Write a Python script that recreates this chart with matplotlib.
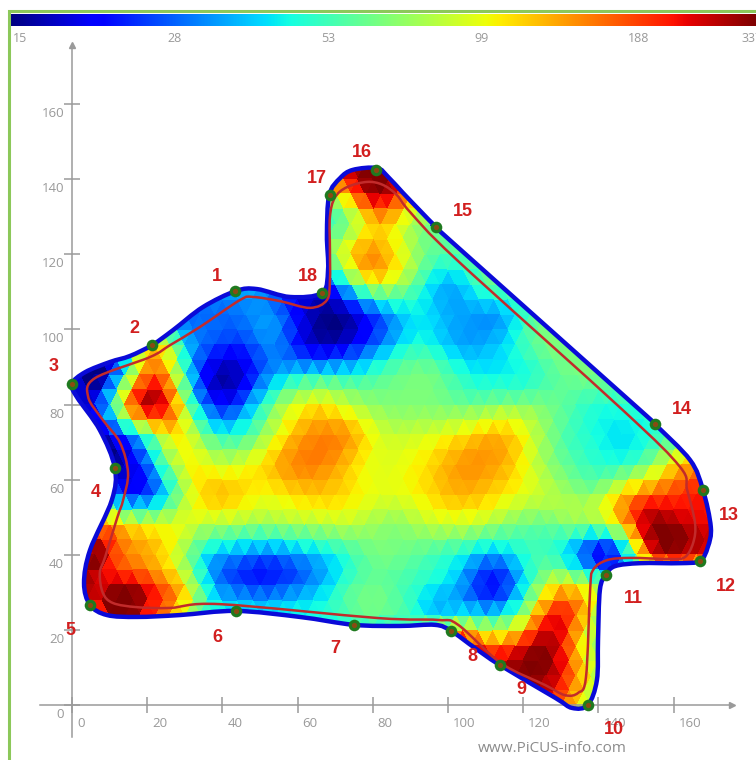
import numpy as np
import matplotlib
matplotlib.use("Agg")
import matplotlib.pyplot as plt
import matplotlib.tri as mtri
from matplotlib.path import Path
from matplotlib.patches import PathPatch
from matplotlib.lines import Line2D
from matplotlib.transforms import ScaledTranslation

plt.rcParams['font.family'] = ['Open Sans', 'DejaVu Sans']

W, H = 756, 760
X0_PX, Y0_PX, SCALE = 72.0, 705.3, 3.76

scale_labels = ['15', '28', '53', '99', '188', '337']
scale_label_px = [12.5, 167, 321, 474, 628, 741]
x_ticks = [0, 20, 40, 60, 80, 100, 120, 140, 160]
y_ticks = [0, 20, 40, 60, 80, 100, 120, 140, 160]
VMIN, VMAX = 15, 337

grid_x = list(range(0, 169, 8))
grid_y = list(range(0, 145, 8))
grid_values = [
    [320,320,320,320,320,320,320,320,320,320,320,320,320,320,320,320,240,120,70,70,70,70],
    [320,320,320,320,320,320,320,320,320,320,320,320,320,320,320,330,250,105,70,70,70,70],
    [60,60,60,60,60,60,60,60,60,60,60,60,150,320,190,220,330,140,75,70,70,70],
    [260,280,250,140,60,50,46,50,50,60,65,55,42,50,48,110,260,105,70,70,70,70],
    [280,260,300,200,115,36,26,26,32,48,65,60,50,40,22,34,90,110,70,60,60,60],
    [230,240,150,110,50,36,30,34,42,55,70,65,55,44,38,55,48,22,28,220,280,240],
    [110,150,125,105,105,85,80,80,85,90,85,75,90,95,85,70,65,75,85,220,330,260],
    [40,40,24,50,120,135,110,120,130,120,105,110,130,140,120,100,85,75,125,190,220,240],
    [18,18,18,40,110,100,105,140,170,150,110,105,120,150,155,125,80,60,52,60,105,150],
    [20,20,45,120,75,50,72,130,165,150,100,95,105,125,140,100,62,50,44,50,65,90],
    [22,22,130,330,85,24,32,70,110,105,80,72,72,68,70,75,70,58,50,55,60,60],
    [18,20,130,130,26,16,28,42,50,50,60,70,65,48,46,50,65,70,70,70,70,70],
    [20,20,40,130,45,28,26,34,20,18,26,42,50,38,38,50,70,70,70,70,70,70],
    [30,30,30,30,30,30,36,26,16,18,30,45,40,36,36,60,70,70,70,70,70,70],
    [40,40,40,40,40,40,40,30,22,30,90,90,50,38,60,70,70,70,70,70,70,70],
    [60,60,60,60,60,60,60,60,70,130,155,90,60,65,70,70,70,70,70,70,70,70],
    [70,70,70,70,70,70,70,70,70,55,110,115,70,70,70,70,70,70,70,70,70,70],
    [90,90,90,90,90,90,90,90,90,170,320,150,100,70,70,70,70,70,70,70,70,70],
    [100,100,100,100,100,100,100,100,200,280,330,280,100,70,70,70,70,70,70,70,70,70],
]

node_ids = list(range(1, 19))
node_x = [43.3, 21.3, 0, 11.4, 4.8, 43.6, 75, 100.8, 113.8, 137.2, 142, 167, 167.8, 155, 96.8, 80.9, 68.6, 66.5]
node_y = [110.2, 95.8, 85.5, 63.1, 26.7, 25.1, 21.4, 19.7, 10.6, 0.1, 34.7, 38.4, 57.3, 74.8, 127.2, 142.4, 135.7, 109.7]
label_x = [38.6, 16.5, -5, 6.4, -0.3, 38.6, 69.9, 106.4, 119.4, 144.1, 149.2, 173.9, 174.7, 162.2, 104, 77.1, 65.2, 62.8]
label_y = [114.1, 100.3, 90, 56.7, 20, 18.1, 15.0, 13.1, 4.3, -6.5, 28.3, 31.7, 50.6, 78.8, 131.4, 146.9, 140.2, 114]

outline_x = [0, 3.5, 10.1, 15.4, 21.3, 26.9, 34.8, 43.6, 49.2, 58, 66.5, 68.1, 67.8, 68.4, 71.3, 74.7, 81.1, 84, 88, 92.6, 96.8, 100.5,
             151.1, 155, 164.4, 167.8, 169.9, 169.1, 167, 161.7, 151.1, 144.4, 142, 140.4, 139.9, 139.6, 137.2, 133, 128.5, 113.8,
             107.2, 100.8, 96.5, 87.2, 75, 60.6, 43.6, 28.7, 17.3, 9.3, 4.8, 3.2, 4.8, 10.6, 11.4, 7.4, 1.3]
outline_y = [85.5, 88.6, 91.3, 92.9, 95.8, 99.8, 105.9, 110.2, 110.7, 108.6, 109.7, 115.8, 125.1, 135.7, 140.2, 142.4, 142.9, 140.6,
             136.3, 131.5, 127.2, 123.7, 78.5, 74.8, 65.2, 57.3, 47.4, 42.1, 38.4, 37.8, 37.8, 37, 34.7, 30.7, 17.4, 6.7, 0.1, -0.7, 2, 10.7,
             15.2, 19.8, 21.4, 21.1, 21.4, 23.5, 25.1, 24, 23.5, 24, 26.7, 32.5, 41.3, 54.6, 63.1, 73.2, 82]

inner_x = [4.3, 6.1, 20.7, 26.1, 34, 44.7, 48.1, 55.3, 63.3, 67.8, 68.6, 68.6, 68.6, 69.9, 73.1, 78.5, 82.7, 86.4, 89.9, 102.4,
           146.5, 161.7, 163.6, 165.7, 165.2, 163, 159, 148.4, 142.3, 138.6, 137.8, 136.7, 134.6, 131.1, 125.8, 114.1, 102.7, 97.3, 81.4,
           39.4, 26.1, 17.3, 10.9, 8.2, 7.4, 8.8, 12, 13.6, 14.9, 12.8, 8.2]
inner_y = [82, 87, 92.6, 95.8, 100.6, 107.8, 108.6, 107.5, 105.7, 107.8, 113.1, 121.1, 129.9, 135, 137.8, 139.2, 138.4, 135.7, 131.2, 118.4,
           78.5, 63.4, 57.3, 48.5, 43.2, 39.4, 38.9, 39.2, 38.6, 36, 30.7, 7.5, 3.3, 2.7, 5.4, 11.2, 21.4, 22.7, 23.2,
           26.9, 25.9, 26.1, 27.2, 29.9, 35.2, 39.4, 49.8, 54.6, 61.8, 69.8, 75.9]


def closed_spline(xs, ys):
    p = np.column_stack([xs, ys])
    n = len(p)
    verts = [p[0]]
    codes = [Path.MOVETO]
    for i in range(n):
        p0, p1, p2, p3 = p[(i - 1) % n], p[i], p[(i + 1) % n], p[(i + 2) % n]
        verts += [p1 + (p2 - p0) / 6, p2 - (p3 - p1) / 6, p2]
        codes += [Path.CURVE4] * 3
    return Path(verts, codes)


fig = plt.figure(figsize=(W / 100, H / 100), dpi=100, facecolor='white')
ax = fig.add_axes([0, 0, 1, 1])
ax.set_xlim(-X0_PX / SCALE, (W - X0_PX) / SCALE)
ax.set_ylim((Y0_PX - H) / SCALE, Y0_PX / SCALE)
ax.patch.set_alpha(0)

# axes
grey = '#9a9a9a'
for s in ['top', 'right']:
    ax.spines[s].set_visible(False)
for s in ['left', 'bottom']:
    ax.spines[s].set_position(('data', 0))
    ax.spines[s].set_color(grey)
    ax.spines[s].set_linewidth(1.1)
ax.spines['bottom'].set_bounds(-32 / SCALE, 660 / SCALE)
ax.spines['left'].set_bounds(-32 / SCALE, 660 / SCALE)
ax.plot([660 / SCALE], [0], '>', color=grey, ms=4, clip_on=False)
ax.plot([0], [660 / SCALE], '^', color=grey, ms=4, clip_on=False)
ax.set_xticks(x_ticks, [str(v) for v in x_ticks])
ax.set_yticks(y_ticks, [str(v) for v in y_ticks])
ax.tick_params(axis='both', direction='inout', length=11.5, width=1.1, color=grey,
               labelcolor='#999999', labelsize=9.5)
ax.tick_params(axis='x', pad=3)
ax.tick_params(axis='y', pad=0)
for lab in ax.get_xticklabels():
    lab.set_ha('left')
    lab.set_transform(lab.get_transform() + ScaledTranslation(5 / 100, 0, fig.dpi_scale_trans))
for lab in ax.get_yticklabels():
    lab.set_transform(lab.get_transform() + ScaledTranslation(0, -8 / 100, fig.dpi_scale_trans))

# tomogram field
gx, gy = np.meshgrid(np.array(grid_x, float), np.array(grid_y, float))
gx = gx + np.where(np.arange(len(grid_y)) % 2 == 0, -2.0, 2.0)[:, None]
vals = np.log10(np.array(grid_values, float))
# one extra margin of cells so that the outline stays inside the mesh
gx2 = np.pad(gx, 1, mode='reflect', reflect_type='odd')
gy2 = np.pad(gy, 1, mode='reflect', reflect_type='odd')
vals2 = np.pad(vals, 1, mode='edge')
tri = mtri.Triangulation(gx2.ravel(), gy2.ravel())
fine_tri, fine_vals = mtri.UniformTriRefiner(tri).refine_field(vals2.ravel(), subdiv=1)
outline = closed_spline(outline_x, outline_y)
pc = ax.tripcolor(fine_tri, fine_vals, cmap='jet', vmin=np.log10(VMIN), vmax=np.log10(VMAX),
                  shading='flat', zorder=1)
pc.set_clip_path(PathPatch(outline, transform=ax.transData))

ax.add_patch(PathPatch(outline, fc='none', ec='#0a0ad8', lw=3.2, zorder=3))
ax.add_patch(PathPatch(closed_spline(inner_x, inner_y), fc='none', ec='#c22b2b', lw=1.8, zorder=4))
ax.scatter(node_x, node_y, s=70, color='#1f7a1f', linewidths=0, zorder=5, clip_on=False)
ax.scatter(node_x, node_y, s=14, color='#8a4a12', linewidths=0, zorder=6, clip_on=False)
for i, lx, ly in zip(node_ids, label_x, label_y):
    ax.text(lx, ly, str(i), color='#d21f1f', fontsize=13, fontweight='bold', ha='center', va='center',
            family=['Liberation Sans'], zorder=7)

ax.text((552 - X0_PX) / SCALE, (Y0_PX - 748) / SCALE, 'www.PiCUS-info.com', color='#8c8c8c', fontsize=11,
        ha='center', va='center')

# colour scale
cax = fig.add_axes([9 / W, 1 - 26 / H, 747 / W, 12 / H])
cax.imshow(np.linspace(0, 1, 256)[None, :], cmap='jet', aspect='auto')
cax.axis('off')
for px, s in zip(scale_label_px, scale_labels):
    fig.text(px / W, 1 - 38 / H, s, color='#999999', fontsize=9, ha='left', va='center')

# green frame
fig.add_artist(Line2D([8.5 / W, 8.5 / W, 1], [0, 1 - 11 / H, 1 - 11 / H], color='#8cc85a', lw=2.2,
                      solid_joinstyle='miter'))

fig.savefig('out.png', dpi=100)
